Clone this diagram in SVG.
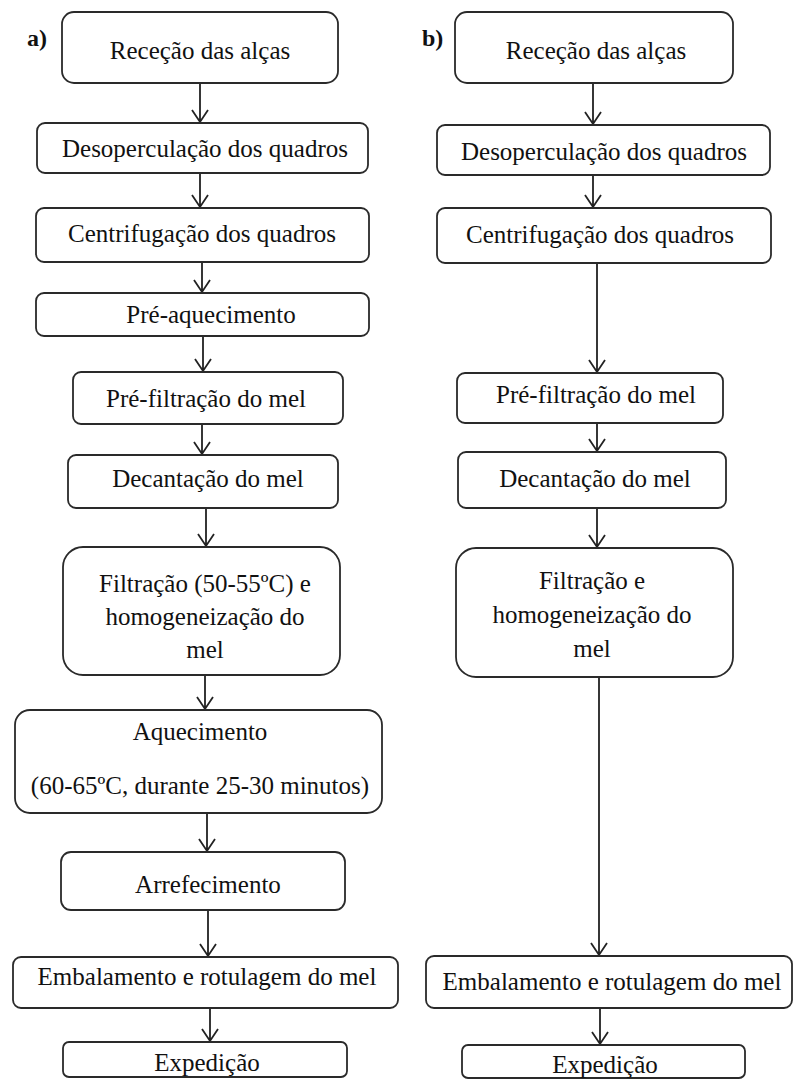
<svg xmlns="http://www.w3.org/2000/svg" width="795" height="1080" viewBox="0 0 795 1080">
<style>
.b{fill:#fff;stroke:#2a2a2a;stroke-width:1.8}
</style>
<rect width="795" height="1080" fill="#fff"/>
<text x="27" y="46" font-family="Liberation Serif, serif" font-size="24" font-weight="bold" fill="#111">a)</text>
<text x="422" y="46" font-family="Liberation Serif, serif" font-size="24" font-weight="bold" fill="#111">b)</text>
<g id="connectors" stroke="#222" stroke-width="1.8" fill="none">
<path d="M200,83V122M192,110L200,122L208,110"/>
<path d="M200,173V207M192,195L200,207L208,195"/>
<path d="M202,262V292M194,280L202,292L210,280"/>
<path d="M203,336V371M195,359L203,371L211,359"/>
<path d="M202,424V454M194,442L202,454L210,442"/>
<path d="M206,508V546M198,534L206,546L214,534"/>
<path d="M205,675V709M197,697L205,709L213,697"/>
<path d="M207,813V851M199,839L207,851L215,839"/>
<path d="M208,910V956M200,944L208,956L216,944"/>
<path d="M210,1008V1041M202,1029L210,1041L218,1029"/>
<path d="M593,83V124M585,112L593,124L601,112"/>
<path d="M593,175V207M585,195L593,207L601,195"/>
<path d="M597,263V372M589,360L597,372L605,360"/>
<path d="M597,423V451M589,439L597,451L605,439"/>
<path d="M597,508V547M589,535L597,547L605,535"/>
<path d="M599,677V955M591,943L599,955L607,943"/>
<path d="M600,1008V1044M592,1032L600,1044L608,1032"/>
</g>
<g id="a1"><rect class="b" x="62" y="12" width="276" height="71" rx="12"/><text x="200" y="59" font-family="Liberation Serif, serif" font-size="25" fill="#111" text-anchor="middle">Receção das alças</text></g>
<g id="a2"><rect class="b" x="37" y="123" width="331" height="50" rx="8"/><text x="205" y="157" font-family="Liberation Serif, serif" font-size="25" fill="#111" text-anchor="middle">Desoperculação dos quadros</text></g>
<g id="a3"><rect class="b" x="36" y="208" width="333" height="54" rx="8"/><text x="202" y="242" font-family="Liberation Serif, serif" font-size="25" fill="#111" text-anchor="middle">Centrifugação dos quadros</text></g>
<g id="a4"><rect class="b" x="36" y="293" width="333" height="43" rx="8"/><text x="211" y="323" font-family="Liberation Serif, serif" font-size="25" fill="#111" text-anchor="middle">Pré-aquecimento</text></g>
<g id="a5"><rect class="b" x="73" y="372" width="270" height="52" rx="8"/><text x="206" y="407" font-family="Liberation Serif, serif" font-size="25" fill="#111" text-anchor="middle">Pré-filtração do mel</text></g>
<g id="a6"><rect class="b" x="68" y="455" width="270" height="53" rx="8"/><text x="208" y="487" font-family="Liberation Serif, serif" font-size="25" fill="#111" text-anchor="middle">Decantação do mel</text></g>
<g id="a7"><rect class="b" x="63" y="547" width="277" height="128" rx="20"/><text x="205" y="592" font-family="Liberation Serif, serif" font-size="25" fill="#111" text-anchor="middle">Filtração (50-55ºC) e</text><text x="205" y="625" font-family="Liberation Serif, serif" font-size="25" fill="#111" text-anchor="middle">homogeneização do</text><text x="205" y="658" font-family="Liberation Serif, serif" font-size="25" fill="#111" text-anchor="middle">mel</text></g>
<g id="a8"><rect class="b" x="15" y="710" width="367" height="103" rx="15"/><text x="200" y="740" font-family="Liberation Serif, serif" font-size="25" fill="#111" text-anchor="middle">Aquecimento</text><text x="200" y="794" font-family="Liberation Serif, serif" font-size="25" fill="#111" text-anchor="middle">(60-65ºC, durante 25-30 minutos)</text></g>
<g id="a9"><rect class="b" x="61" y="852" width="284" height="58" rx="10"/><text x="208" y="893" font-family="Liberation Serif, serif" font-size="25" fill="#111" text-anchor="middle">Arrefecimento</text></g>
<g id="a10"><rect class="b" x="13" y="957" width="385" height="51" rx="8"/><text x="207" y="985" font-family="Liberation Serif, serif" font-size="25" fill="#111" text-anchor="middle">Embalamento e rotulagem do mel</text></g>
<g id="a11"><rect class="b" x="63" y="1042" width="284" height="35" rx="6"/><text x="207" y="1071" font-family="Liberation Serif, serif" font-size="25" fill="#111" text-anchor="middle">Expedição</text></g>
<g id="b1"><rect class="b" x="455" y="12" width="278" height="71" rx="12"/><text x="596" y="59" font-family="Liberation Serif, serif" font-size="25" fill="#111" text-anchor="middle">Receção das alças</text></g>
<g id="b2"><rect class="b" x="437" y="125" width="333" height="50" rx="8"/><text x="604" y="160" font-family="Liberation Serif, serif" font-size="25" fill="#111" text-anchor="middle">Desoperculação dos quadros</text></g>
<g id="b3"><rect class="b" x="437" y="208" width="334" height="55" rx="8"/><text x="600" y="243" font-family="Liberation Serif, serif" font-size="25" fill="#111" text-anchor="middle">Centrifugação dos quadros</text></g>
<g id="b4"><rect class="b" x="457" y="373" width="266" height="50" rx="8"/><text x="596" y="403" font-family="Liberation Serif, serif" font-size="25" fill="#111" text-anchor="middle">Pré-filtração do mel</text></g>
<g id="b5"><rect class="b" x="458" y="452" width="268" height="56" rx="8"/><text x="595" y="487" font-family="Liberation Serif, serif" font-size="25" fill="#111" text-anchor="middle">Decantação do mel</text></g>
<g id="b6"><rect class="b" x="456" y="548" width="277" height="129" rx="20"/><text x="592" y="589" font-family="Liberation Serif, serif" font-size="25" fill="#111" text-anchor="middle">Filtração e</text><text x="592" y="623" font-family="Liberation Serif, serif" font-size="25" fill="#111" text-anchor="middle">homogeneização do</text><text x="592" y="657" font-family="Liberation Serif, serif" font-size="25" fill="#111" text-anchor="middle">mel</text></g>
<g id="b7"><rect class="b" x="426" y="956" width="366" height="52" rx="8"/><text x="612" y="990" font-family="Liberation Serif, serif" font-size="25" fill="#111" text-anchor="middle">Embalamento e rotulagem do mel</text></g>
<g id="b8"><rect class="b" x="462" y="1045" width="283" height="33" rx="6"/><text x="605" y="1073" font-family="Liberation Serif, serif" font-size="25" fill="#111" text-anchor="middle">Expedição</text></g>
</svg>
